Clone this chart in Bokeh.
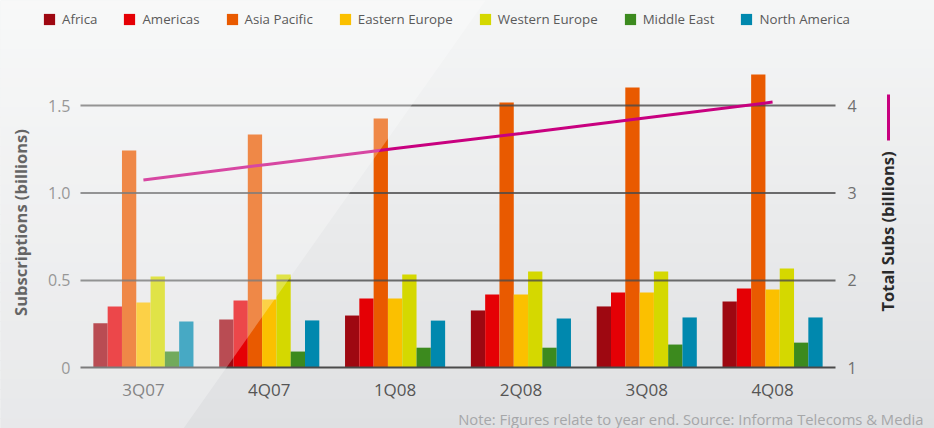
import math
from bokeh.plotting import figure
from bokeh.models import (Range1d, LinearAxis, FixedTicker, Legend, LegendItem,
                          Label, PolyAnnotation, BoxAnnotation, Arrow, ColumnDataSource)
from bokeh.transform import dodge
from bokeh.embed import file_html
from bokeh.resources import INLINE

# ---------------- data ----------------
quarters = ["3Q07", "4Q07", "1Q08", "2Q08", "3Q08", "4Q08"]
regions = ["Africa", "Americas", "Asia Pacific", "Eastern Europe",
           "Western Europe", "Middle East", "North America"]
africa = [0.255, 0.276, 0.299, 0.328, 0.351, 0.379]
americas = [0.351, 0.385, 0.396, 0.419, 0.431, 0.454]
asia_pacific = [1.243, 1.335, 1.426, 1.518, 1.604, 1.678]
eastern_europe = [0.374, 0.391, 0.396, 0.419, 0.431, 0.448]
western_europe = [0.522, 0.534, 0.534, 0.551, 0.551, 0.568]
middle_east = [0.093, 0.093, 0.115, 0.115, 0.133, 0.144]
north_america = [0.265, 0.271, 0.270, 0.282, 0.288, 0.288]
total_subs = [3.15, 3.33, 3.51, 3.68, 3.86, 4.04]

left_ticks = [0, 0.5, 1.0, 1.5]
left_tick_labels = ["0", "0.5", "1.0", "1.5"]
right_ticks = [1, 2, 3, 4]
right_tick_labels = ["1", "2", "3", "4"]

series = [africa, americas, asia_pacific, eastern_europe,
          western_europe, middle_east, north_america]
colors = ["#9e0811", "#e50005", "#e95a00", "#fbc000", "#d5d800", "#3c8a1e", "#0088ae"]
line_color = "#c8007f"

# ---------------- layout (canvas pixels) ----------------
W, H = 934, 428
AX_L, AX_R, AX_B = 80, 835, 367.3        # plot-area edges inside the canvas
PX_PER_CAT = (AX_R - AX_L) / len(quarters)
PX_PER_UNIT = 174.8


def dx(fx):
    return (fx - AX_L) / PX_PER_CAT


def dy(fy):
    return (AX_B - fy) / PX_PER_UNIT


FONT = "Open Sans"
quarter_pos = [i + 0.5 for i in range(len(quarters))]

p = figure(width=W, height=H,
           x_range=Range1d(dx(0), dx(W)),
           y_range=Range1d(dy(H), dy(0)),
           x_axis_location=None, y_axis_location=None,
           output_backend="svg", toolbar_location=None,
           min_border=0)
p.outline_line_color = None
p.background_fill_color = "#eceded"
p.border_fill_color = "#eceded"
p.xgrid.visible = False
p.ygrid.visible = False
p.extra_y_ranges = {"total": Range1d(1 + 2 * dy(H), 1 + 2 * dy(0))}

# background gradient
top_c = (245, 246, 246)
bot_c = (223, 224, 226)
N = 44
for k in range(N):
    f0 = k * (H / N)
    f1 = (k + 1) * (H / N)
    t = (k + 0.5) / N
    c = tuple(int(round(top_c[i] + (bot_c[i] - top_c[i]) * t)) for i in range(3))
    p.add_layout(BoxAnnotation(left=dx(-10), right=dx(W + 10), top=dy(f0 - 0.5), bottom=dy(f1 + 0.5),
                               fill_color="#%02x%02x%02x" % c, fill_alpha=1.0,
                               line_color=None, level="image"))

# bars
bw = 14.3 / PX_PER_CAT
items = []
for i, (name, vals, col) in enumerate(zip(regions, series, colors)):
    src = ColumnDataSource(dict(x=quarter_pos, v=vals))
    r = p.vbar(x=dodge("x", (i - 3) * bw), top="v", width=bw,
               source=src, fill_color=col, line_color=None)
    items.append(LegendItem(label=name, renderers=[r]))

# horizontal grid lines (limited to the plot area)
grid_t = left_ticks[1:]
p.segment(x0=[0] * len(grid_t), x1=[len(quarters)] * len(grid_t), y0=grid_t, y1=grid_t,
          line_color="#4a4a4a", line_width=2, line_alpha=0.8)

# total line
p.line(x=quarter_pos, y=total_subs, y_range_name="total", line_color=line_color, line_width=3)

# axes (fixed inside the canvas)
xa = LinearAxis(ticker=FixedTicker(ticks=quarter_pos), fixed_location=0, bounds=(0, len(quarters)))
xa.major_label_overrides = {q: l for q, l in zip(quarter_pos, quarters)}
xa.axis_line_color = "#4a4a4a"
xa.axis_line_width = 2
xa.major_tick_line_color = None
xa.minor_tick_line_color = None
xa.major_tick_out = 0
xa.major_tick_in = 0
xa.major_label_standoff = 10
xa.major_label_text_font = FONT
xa.major_label_text_font_size = "17px"
xa.major_label_text_color = "#555555"
p.add_layout(xa, "below")

ya = LinearAxis(ticker=FixedTicker(ticks=left_ticks), fixed_location=0)
ya.major_label_overrides = {t: l for t, l in zip(left_ticks, left_tick_labels)}
ya.axis_line_color = None
ya.major_tick_line_color = None
ya.minor_tick_line_color = None
ya.major_tick_out = 0
ya.major_tick_in = 0
ya.major_label_standoff = 10
ya.major_label_text_font = FONT
ya.major_label_text_font_size = "16px"
ya.major_label_text_color = "#707070"
p.add_layout(ya, "left")

ra = LinearAxis(y_range_name="total", ticker=FixedTicker(ticks=right_ticks),
                fixed_location=len(quarters))
ra.major_label_overrides = {t: l for t, l in zip(right_ticks, right_tick_labels)}
ra.axis_line_color = None
ra.major_tick_line_color = None
ra.minor_tick_line_color = None
ra.major_tick_out = 0
ra.major_tick_in = 0
ra.major_label_standoff = 12
ra.major_label_text_font = FONT
ra.major_label_text_font_size = "16px"
ra.major_label_text_color = "#707070"
p.add_layout(ra, "right")

# axis titles
p.add_layout(Label(x=dx(20), y=dy(222), text="Subscriptions (billions)", angle=math.pi / 2,
                   text_align="center", text_baseline="middle", text_font=FONT,
                   text_font_style="bold", text_font_size="16.5px", text_color="#2a2a2a"))
p.add_layout(Label(x=dx(887), y=dy(231), text="Total Subs (billions)", angle=math.pi / 2,
                   text_align="center", text_baseline="middle", text_font=FONT,
                   text_font_style="bold", text_font_size="16.5px", text_color="#2a2a2a"))
# line key next to right title
p.add_layout(Arrow(x_start=dx(888), y_start=dy(94), x_end=dx(888), y_end=dy(140),
                   end=None, line_color=line_color, line_width=3))

# legend
legend = Legend(items=items, orientation="horizontal", location=(42, 400),
                glyph_width=14, glyph_height=14, label_height=14, label_standoff=6,
                spacing=25, padding=0, margin=0, border_line_color=None,
                background_fill_alpha=0, label_text_font=FONT,
                label_text_font_size="13.3px", label_text_color="#5a5a5a")
p.add_layout(legend)

# note
p.add_layout(Label(x=dx(923), y=dy(418), text="Note: Figures relate to year end. Source: Informa Telecoms & Media",
                   text_align="right", text_baseline="middle", text_font=FONT,
                   text_font_size="14.8px", text_color="#a6a7a9"))

# glossy diagonal overlay
p.add_layout(PolyAnnotation(xs=[dx(-100), dx(555.6), dx(112.4), dx(-100)],
                            ys=[dy(-100), dy(-100), dy(528), dy(528)],
                            fill_color="white", fill_alpha=0.28, line_color=None,
                            level="overlay"))

open("out.html", "w").write(file_html(p, INLINE))
